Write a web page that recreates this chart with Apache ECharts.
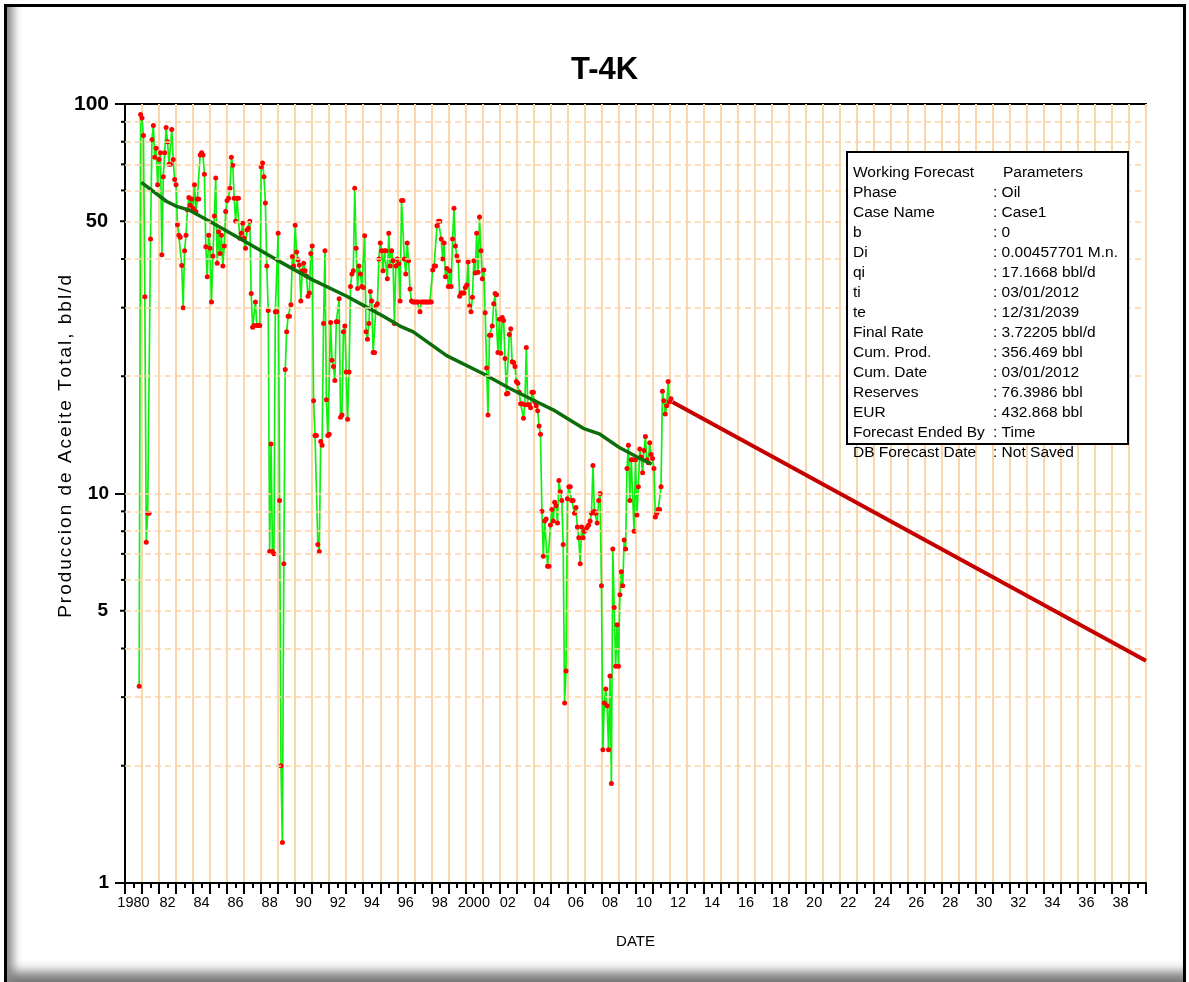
<!DOCTYPE html>
<html>
<head>
<meta charset="utf-8">
<title>T-4K</title>
<script src="https://cdn.jsdelivr.net/npm/echarts@6.0.0/dist/echarts.min.js"></script>
<style>
body{margin:0;background:#fff;}
#marco{position:absolute;left:4px;top:4px;width:1182px;height:978px;box-sizing:border-box;
  border-top:3px solid #000;border-left:3px solid #000;border-right:3px solid #000;
  box-shadow: inset 14px 0 10px -8px #888, inset 0 -18px 12px -8px #777;}
#grafica{position:absolute;left:0;top:0;width:1189px;height:982px;}
</style>
</head>
<body>
<div id="marco"></div>
<div id="grafica"></div>
<script>
// produccion mensual de aceite (bbl/d), desde nov-1980
var inicioAnio = 1980, inicioMes = 10;
var tasaAceite = [
  3.2, 94,
  92, 83, 32, 7.5, 8.9, 8.9, 45, 81, 88, 73, 77, 62,          // 1981
  72, 75, 41, 65, 75, 87, 80, 70, 70, 86, 72, 64,             // 1982
  62, 49, 46, 45.5, 38.5, 30, 42, 46, 53.5, 57.5, 55, 57,     // 1983
  54, 62, 53, 57, 57, 74, 75, 74, 66, 43, 36, 46,             // 1984
  42.6, 31, 40.7, 51.6, 64.6, 39, 47, 41.3, 46, 38.4, 43.2, 53, // 1985
  56.5, 57.3, 60.8, 73, 69.6, 57.3, 50.1, 57.3, 57.3, 45.2, 46.6, 49.4, // 1986
  45.2, 42.6, 47.5, 48, 50, 32.6, 26.7, 27, 31, 27, 27, 27,   // 1987
  69, 70.6, 65, 55.7, 38.4, 29.5, 7.1, 13.4, 7.1, 7.0, 29.3, 29.3, // 1988
  46.6, 9.6, 2.0, 1.27, 6.6, 20.8, 26, 28.5, 28.5, 30.5, 40.6, 38.4, // 1989
  48.8, 41.7, 39.8, 38.6, 31.2, 37.3, 39, 37.3, 36.2, 32.1, 32.7, 41.3, // 1990
  43.2, 17.3, 14.1, 14.1, 7.4, 7.1, 13.6, 13.3, 27.3, 42, 17.4, 14.1, // 1991
  14.2, 27.5, 22, 21.2, 19.5, 27.6, 27.6, 31.6, 15.7, 15.9, 26, 26.9, // 1992
  20.5, 15.5, 20.5, 34, 36.6, 37.3, 60.8, 42.6, 33.6, 38.4, 36.6, 34, // 1993
  33.8, 45.9, 26, 24.9, 27.3, 33, 31.2, 23, 23, 30.3, 30.7, 40, // 1994
  44, 42, 37.3, 42, 42, 35.6, 46.6, 38.4, 42, 39.6, 27.3, 38.4, // 1995
  40, 38.9, 31.2, 56.5, 56.5, 40, 36.6, 44, 39.6, 33.5, 31.2, 31, // 1996
  31, 31, 31, 31, 29.3, 31, 31, 31, 31, 31, 31, 31,           // 1997
  31, 37.5, 38.4, 38.4, 48.7, 50, 50, 45, 40, 44, 36, 37.8,   // 1998
  34, 37.3, 34, 45, 54, 43.2, 40.7, 39.6, 32.1, 32.7, 32.7, 32.7, // 1999
  33.8, 34.3, 39.3, 30.3, 29.3, 31.9, 39.6, 36.8, 46.6, 37, 51.3, 42, // 2000
  35.6, 37.5, 29.1, 21, 15.9, 25.5, 25.5, 26.9, 30.7, 32.6, 32.4, 23, // 2001
  28, 22.9, 28.3, 27.8, 22.2, 18, 18.1, 25.6, 26.5, 21.8, 21.7, 21.2, // 2002
  19.4, 19.2, 18.2, 17, 17, 15.6, 16.9, 23.7, 16.9, 16.9, 16.6, 18.2, // 2003
  18.2, 17.2, 16.8, 16.3, 14.9, 14.2, 9.0, 6.9, 8.5, 8.6, 6.5, 6.5, // 2004
  8.3, 9.1, 8.5, 9.5, 9.3, 8.4, 10.8, 10.1, 9.6, 7.4, 2.9, 3.5, // 2005
  9.7, 10.4, 10.4, 9.6, 9.6, 8.9, 9.2, 8.2, 7.7, 6.6, 8.2, 7.7, // 2006
  8.0, 8.1, 8.2, 8.3, 8.5, 8.9, 11.8, 9.0, 8.9, 8.4, 9.6, 10, // 2007
  5.8, 2.2, 2.9, 3.15, 2.85, 2.2, 3.4, 1.8, 7.2, 5.1, 3.6, 4.6, // 2008
  3.6, 5.5, 6.3, 5.8, 7.6, 7.2, 11.6, 13.3, 9.6, 12.2, 12.2, 8.0, // 2009
  12.2, 8.8, 10.4, 13, 12.4, 11.3, 12.9, 14, 12.2, 12, 13.5, 12.6, // 2010
  12.3, 11.6, 8.7, 8.9, 9.1, 9.1, 10.4, 18.3, 17.3, 16, 16.8, 19.4, // 2011
  17.2, 17.5                                                   // 2012
];

// linea de tendencia (verde oscuro)
var tendAnio = [1980.96, 1982.45, 1983.04, 1983.82, 1984.99, 1986.95, 1988.91, 1991.06, 1993.03, 1994.20, 1995.18, 1996.16, 1996.94, 1998.90, 2001.05, 2002.62, 2004.19, 2005.16, 2006.93, 2007.91, 2009.08, 2010.26, 2010.95];
var tendTasa = [62.9, 56.2, 54.6, 53.3, 49.9, 44.6, 39.8, 35.3, 32.1, 30.1, 28.5, 26.9, 26.0, 22.6, 20.3, 18.6, 17.2, 16.4, 14.7, 14.2, 13.1, 12.3, 11.9];

// pronostico (ti -> te)
var pronAnio = [2012.167, 2039.997];
var pronTasa = [17.1668, 3.72205];

// rejilla horizontal punteada
var lineasRejilla = [2, 3, 4, 5, 6, 7, 8, 9, 10, 20, 30, 40, 50, 60, 70, 80, 90];
var etiquetasExtra = [5, 50];

// cuadro de parametros
var paramNombres = ['Working Forecast', 'Phase', 'Case Name', 'b', 'Di', 'qi', 'ti', 'te', 'Final Rate', 'Cum. Prod.', 'Cum. Date', 'Reserves', 'EUR', 'Forecast Ended By', 'DB Forecast Date'];
var paramValores = ['Parameters', ': Oil', ': Case1', ': 0', ': 0.00457701 M.n.', ': 17.1668 bbl/d', ': 03/01/2012', ': 12/31/2039', ': 3.72205 bbl/d', ': 356.469 bbl', ': 03/01/2012', ': 76.3986 bbl', ': 432.868 bbl', ': Time', ': Not Saved'];

var tituloEjeY = 'Produccion de Aceite Total, bbl/d';
var fuente = '"Liberation Sans", Arial, sans-serif';

// texto espaciado letra por letra (rich text)
function espaciado(txt) {
    return txt.split('').map(function (c) { return '{l|' + c + '}'; }).join('');
}

function renderGrafico() {
    var grafico = echarts.init(document.getElementById('grafica'));

    var datosProd = [];
    tasaAceite.forEach(function (v, i) {
        datosProd.push([inicioAnio + (inicioMes + i) / 12, v]);
    });
    var datosTend = tendAnio.map(function (a, i) { return [a, tendTasa[i]]; });
    var datosPron = pronAnio.map(function (a, i) { return [a, pronTasa[i]]; });

    var marcas = lineasRejilla.map(function (v) { return {yAxis: v}; });

    // elementos sueltos: titulo del eje y, cuadro y textos de parametros
    var graficos = [
        {type: 'text', left: 56, top: 275, rotation: Math.PI / 2,
         style: {text: espaciado(tituloEjeY), fill: '#000',
                 rich: {l: {fontSize: 19, fontFamily: fuente, color: '#000', padding: [0, 1, 0, 1]}}}},
        {type: 'rect', z: 10, shape: {x: 847, y: 152, width: 281, height: 292},
         style: {fill: '#fff', stroke: '#000', lineWidth: 2}}
    ];
    paramNombres.forEach(function (n, i) {
        var y = 173 + i * 19.95;
        graficos.push({type: 'text', x: 853, y: y, z: 20,
            style: {text: n, font: '15.5px ' + fuente, fill: '#000', verticalAlign: 'middle'}});
        graficos.push({type: 'text', x: i === 0 ? 1003 : 993, y: y, z: 20,
            style: {text: paramValores[i], font: '15.5px ' + fuente, fill: '#000', verticalAlign: 'middle'}});
    });

    var option = {
        animation: false,
        title: {
            text: 'T-4K', left: 566, top: 50,
            textStyle: {fontSize: 31, fontWeight: 'bold', color: '#000', fontFamily: fuente}
        },
        grid: {left: 125, right: 43, top: 104, bottom: 99, show: true, borderColor: '#000', borderWidth: 2},
        xAxis: {
            type: 'value', min: 1980, max: 2040, interval: 1,
            name: 'DATE', nameLocation: 'middle', nameGap: 51,
            nameTextStyle: {fontSize: 15, color: '#000', fontFamily: fuente},
            axisLine: {lineStyle: {color: '#000', width: 2}},
            axisTick: {length: 11, lineStyle: {color: '#000', width: 2}},
            minorTick: {show: true, splitNumber: 2, length: 5, lineStyle: {color: '#000', width: 2}},
            splitLine: {show: true, lineStyle: {color: '#fbd6aa', width: 2}},
            axisLabel: {
                margin: 12, color: '#000', fontSize: 14.5, fontFamily: fuente,
                padding: [0, 0, 0, 17],
                formatter: function (v) {
                    var a = Math.round(v);
                    if (a % 2 !== 0 || a >= 2040) return '';
                    if (a === 1980 || a === 2000) return String(a);
                    return String(a).slice(2);
                }
            }
        },
        yAxis: {
            type: 'log', logBase: 10, min: 1, max: 100,
            axisLine: {show: true, lineStyle: {color: '#000', width: 2}},
            axisTick: {show: true, length: 10, lineStyle: {color: '#000', width: 2}},
            splitLine: {show: false},
            axisLabel: {
                margin: 16, color: '#000', fontFamily: fuente,
                formatter: function (v) { return v === 100 ? '{g|100}' : '{m|' + v + '}'; },
                rich: {
                    g: {fontSize: 21, fontWeight: 'bold', fontFamily: fuente},
                    m: {fontSize: 19, fontWeight: 'bold', fontFamily: fuente}
                }
            }
        },
        graphic: graficos,
        series: [
            {
                name: 'rejilla', type: 'line', data: datosPron, z: 1, silent: true,
                showSymbol: false, lineStyle: {opacity: 0},
                markLine: {
                    silent: true, symbol: ['none', 'none'], animation: false,
                    lineStyle: {color: '#fbd3a4', width: 1.5, type: [6, 4]},
                    label: {
                        position: 'start', distance: 0, color: '#000',
                        formatter: function (p) {
                            var v = p.value;
                            if (etiquetasExtra.indexOf(v) >= 0) {
                                return (v === 50 ? '{g|50}' : '{m|5}') + '{s|}{k|}';
                            }
                            if (v === 10) return '';
                            return '{c|}';
                        },
                        rich: {
                            g: {fontSize: 20, fontWeight: 'bold', fontFamily: fuente, color: '#000'},
                            m: {fontSize: 19, fontWeight: 'bold', fontFamily: fuente, color: '#000'},
                            s: {width: 12},
                            k: {width: 5, height: 2, backgroundColor: '#000'},
                            c: {width: 4, height: 2, backgroundColor: '#000'}
                        }
                    },
                    data: marcas
                }
            },
            {
                name: 'Aceite', type: 'line', data: datosProd, z: 3,
                symbol: 'circle', symbolSize: 5,
                itemStyle: {color: '#ff0000'},
                lineStyle: {color: '#10f010', width: 1.7}
            },
            {
                name: 'Tendencia', type: 'line', data: datosTend, z: 4,
                showSymbol: false, lineStyle: {color: '#0b6e0b', width: 3.5}
            },
            {
                name: 'Pronostico', type: 'line', data: datosPron, z: 5,
                showSymbol: false, lineStyle: {color: '#c40000', width: 4}
            }
        ]
    };

    grafico.setOption(option);
}

renderGrafico();
</script>
</body>
</html>
